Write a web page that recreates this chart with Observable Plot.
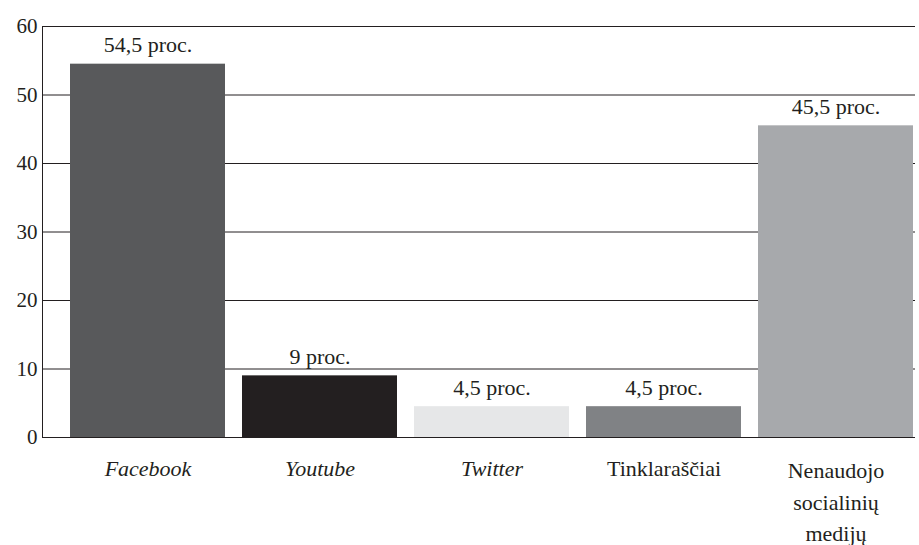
<!DOCTYPE html>
<html>
<head>
<meta charset="utf-8">
<script src="https://cdn.jsdelivr.net/npm/d3@7"></script>
<script src="https://cdn.jsdelivr.net/npm/@observablehq/plot@0.6"></script>
<style>
  body { margin: 0; background: #fff; }
  svg, svg text { font-family: "Liberation Serif", "DejaVu Serif", "Noto Serif", serif !important; }
</style>
</head>
<body>
<div id="chart"></div>
<script>
const categories = ["Facebook", "Youtube", "Twitter", "Tinklaraščiai", "Nenaudojo\nsocialinių\nmedijų"];
const values = [54.5, 9, 4.5, 4.5, 45.5];
const valueLabels = ["54,5 proc.", "9 proc.", "4,5 proc.", "4,5 proc.", "45,5 proc."];
const colors = ["#58595b", "#231f20", "#e6e7e8", "#808285", "#a7a9ac"];
const italic = [true, true, true, false, false];
const yTicks = [0, 10, 20, 30, 40, 50, 60];

const data = categories.map((c, i) => ({cat: c, value: values[i], label: valueLabels[i], color: colors[i], italic: italic[i], lines: c.split("\n").length}));

const chart = Plot.plot({
  width: 919,
  height: 545,
  marginLeft: 42,
  marginRight: 4,
  marginTop: 26,
  marginBottom: 108,
  style: {background: "#fff"},
  x: {domain: categories, range: [69, 913], paddingInner: 0.1, paddingOuter: 0, axis: null},
  y: {domain: [0, 60], axis: null},
  marks: [
    Plot.ruleY(yTicks.filter(d => d > 0), {stroke: "#231f20", strokeWidth: 1}),
    Plot.barY(data, {x: "cat", y: "value", fill: "color"}),
    Plot.ruleY([0], {stroke: "#231f20", strokeWidth: 1}),
    Plot.frame({anchor: "left", stroke: "#231f20", strokeWidth: 1}),
    Plot.axisY({ticks: yTicks, tickSize: 0, tickPadding: 5, fontSize: 21, fill: "#231f20", label: null, tickFormat: d => String(d)}),
    Plot.text(data, {x: "cat", y: "value", text: "label", dy: -19, fontSize: 22, fill: "#231f20"}),
    Plot.text(data.filter(d => d.italic), {x: "cat", y: 0, text: "cat", dy: 31, fontSize: 22, fontStyle: "italic", fill: "#231f20"}),
    Plot.text(data.filter(d => !d.italic && d.lines === 1), {x: "cat", y: 0, text: "cat", dy: 31, fontSize: 22, fill: "#231f20"}),
    Plot.text(data.filter(d => d.lines > 1), {x: "cat", y: 0, text: "cat", dy: 62, fontSize: 22, fill: "#231f20", lineHeight: 1.43})
  ]
});
document.getElementById("chart").appendChild(chart);
</script>
</body>
</html>
